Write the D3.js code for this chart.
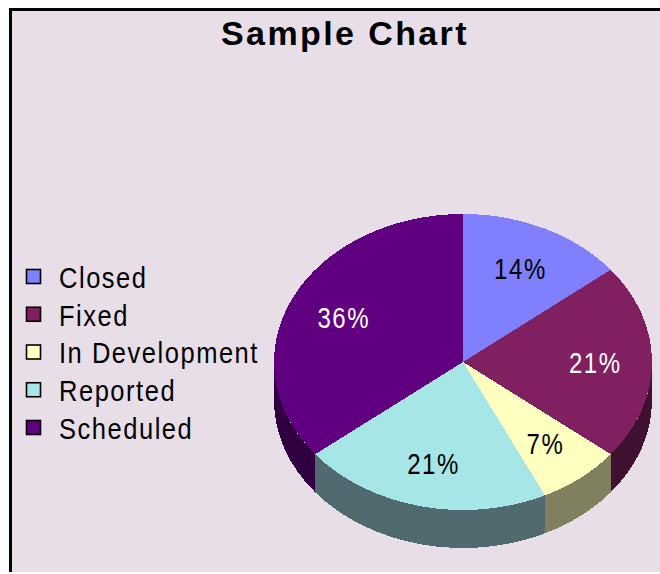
<!DOCTYPE html>
<html>
<head>
<meta charset="utf-8">
<script src="https://cdn.jsdelivr.net/npm/d3@7"></script>
<style>
  html, body { margin: 0; padding: 0; background: #ffffff; }
  svg { display: block; }
  text { font-family: "Liberation Sans", Arial, sans-serif; }
</style>
</head>
<body>
<svg id="chart" width="660" height="574"></svg>
<script>
// Issue counts per status
const categories = ["Closed", "Fixed", "In Development", "Reported", "Scheduled"];
const counts = [2, 3, 1, 3, 5];
const topColors = ["#8080ff", "#802060", "#ffffc0", "#a6e6e6", "#600080"];
const sideColors = ["#404080", "#401030", "#808060", "#506a70", "#300040"];
const labelColors = ["#000000", "#ffffff", "#000000", "#000000", "#ffffff"];
const chartTitle = "Sample Chart";

const svg = d3.select("#chart");

// Panel: lavender background with a black rule on the top and left edges
svg.append("rect").attr("x", 12).attr("y", 11).attr("width", 648).attr("height", 561).attr("fill", "#e8dee8");
svg.append("rect").attr("x", 9).attr("y", 8).attr("width", 651).attr("height", 3).attr("fill", "#000");
svg.append("rect").attr("x", 9).attr("y", 8).attr("width", 3).attr("height", 564).attr("fill", "#000");

// Title
svg.append("text")
  .attr("x", 345).attr("y", 45)
  .attr("text-anchor", "middle")
  .attr("font-size", 34).attr("font-weight", "bold")
  .attr("letter-spacing", 2.4)
  .attr("fill", "#000")
  .text(chartTitle);

// Legend
const legendY = d3.scalePoint().domain(categories).range([277, 428]);
const legend = svg.append("g");
categories.forEach((c, i) => {
  const y = legendY(c);
  legend.append("rect")
    .attr("x", 26.5).attr("y", y - 7.5).attr("width", 14).attr("height", 14)
    .attr("fill", topColors[i]).attr("stroke", "#000").attr("stroke-width", 1.6);
  legend.append("text")
    .attr("transform", `translate(59,${y}) scale(0.85,1)`)
    .attr("dy", "0.36em")
    .attr("font-size", 30)
    .attr("letter-spacing", 1.8)
    .attr("fill", "#000")
    .text(c);
});

// 3D pie geometry
const cx = 463, cy = 362, rx = 189, ry = 148, depth = 38;
const k = ry / rx;

const pie = d3.pie().sort(null).value(d => d)(counts);
const total = d3.sum(counts);

// Everything is drawn on a circle of radius rx, then squashed vertically by k
const pieG = svg.append("g").attr("transform", `translate(${cx},${cy}) scale(1,${k})`);
const dz = depth / k;

// Outer walls: only the front half (angles between PI/2 and 3PI/2) is visible
pie.forEach((s, i) => {
  const a0 = Math.max(s.startAngle, Math.PI / 2);
  const a1 = Math.min(s.endAngle, 3 * Math.PI / 2);
  if (a1 <= a0) return;
  const p = d3.path();
  const c0 = a0 - Math.PI / 2, c1 = a1 - Math.PI / 2;
  p.moveTo(rx * Math.cos(c0), rx * Math.sin(c0));
  p.arc(0, 0, rx, c0, c1, false);
  p.lineTo(rx * Math.cos(c1), rx * Math.sin(c1) + dz);
  p.arc(0, dz, rx, c1, c0, true);
  p.closePath();
  pieG.append("path")
    .attr("d", p.toString())
    .attr("fill", sideColors[i])
    .attr("shape-rendering", "crispEdges");
});

// Top faces
const arc = d3.arc().innerRadius(0).outerRadius(rx);
pieG.selectAll("path.top")
  .data(pie)
  .join("path")
  .attr("class", "top")
  .attr("d", arc)
  .attr("fill", (d, i) => topColors[i])
  .attr("shape-rendering", "crispEdges");

// Percentage labels
const labelArc = d3.arc().innerRadius(rx * 0.7).outerRadius(rx * 0.7);
pie.forEach((s, i) => {
  const [lx, ly] = labelArc.centroid(s);
  svg.append("text")
    .attr("transform", `translate(${cx + lx},${cy + ly * k}) scale(0.8,1)`)
    .attr("text-anchor", "middle")
    .attr("dy", "0.36em")
    .attr("font-size", 30)
    .attr("letter-spacing", 2)
    .attr("fill", labelColors[i])
    .text(Math.round(s.value / total * 100) + "%");
});
</script>
</body>
</html>
